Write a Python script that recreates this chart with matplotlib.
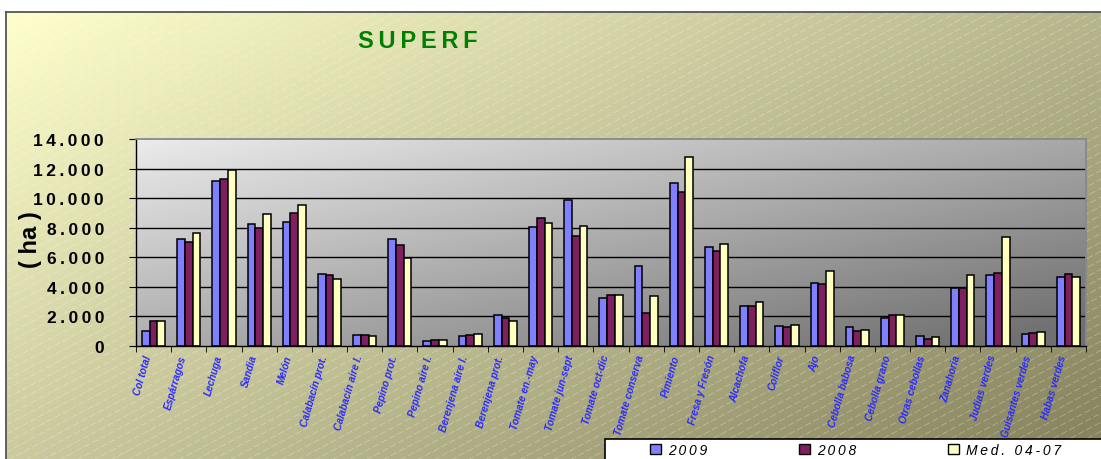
import numpy as np
import matplotlib
matplotlib.use('Agg')
import matplotlib.pyplot as plt
import matplotlib.transforms as mtransforms
from matplotlib.patches import Rectangle, Patch
from matplotlib.ticker import FuncFormatter, MultipleLocator

plt.rcParams['font.family'] = ['Liberation Sans', 'DejaVu Sans']

categories = ['Col total', 'Espárragos', 'Lechuga', 'Sandia', 'Melón',
              'Calabacín prot.', 'Calabacín aire l.', 'Pepino prot.',
              'Pepino aire l.', 'Berenjena aire l.', 'Berenjena prot.',
              'Tomate en.-may', 'Tomate jun-sept', 'Tomate oct-dic',
              'Tomate conserva', 'Pimiento', 'Fresa y Fresón', 'Alcachofa',
              'Coliflor', 'Ajo', 'Cebolla babosa', 'Cebolla grano',
              'Otras cebollas', 'Zanahoria', 'Judías verdes',
              'Guisantes verdes', 'Habas verdes']

ha_2009 = [970, 7250, 11130, 8260, 8370, 4880, 700, 7250, 290, 650, 2080,
           8010, 9840, 3200, 5370, 10990, 6660, 2690, 1350, 4270, 1290,
           1850, 680, 3880, 4790, 770, 4650]
ha_2008 = [1650, 7000, 11260, 7970, 8960, 4790, 700, 6840, 400, 745, 1850,
           8620, 7450, 3410, 2190, 10430, 6410, 2660, 1240, 4180, 990,
           2050, 430, 3880, 4940, 860, 4850]
ha_med = [1650, 7600, 11920, 8920, 9550, 4490, 630, 5960, 360, 790, 1670,
          8340, 8130, 3450, 3360, 12800, 6910, 2930, 1420, 5080, 1040,
          2050, 610, 4810, 7340, 900, 4630]

series_names = ['2009', '2008', 'Med. 04-07']
series_colors = ['#8080ff', '#7f1f5f', '#ffffc0']

W, H = 1101, 460
fig = plt.figure(figsize=(W / 100, H / 100), dpi=100)

# background panel with olive gradient and faint diagonal lines
bg = fig.add_axes([6 / W, -0.05, 1.0, (H - 13) / H + 0.05])
bw, bh = W - 6, H - 13 + 23
xx, yy = np.meshgrid(np.linspace(0, 1, 200), np.linspace(0, 1, 100))
t = np.clip(0.6 * xx + 0.45 * yy, 0, 1)
c0 = np.array([255, 255, 205]) / 255
c1 = np.array([135, 132, 95]) / 255
grad = c0[None, None, :] * (1 - t[..., None]) + c1[None, None, :] * t[..., None]
bg.imshow(grad, extent=[0, bw, 0, bh], origin='upper', aspect='auto', zorder=0)
slope = np.tan(np.radians(28))
for c in np.arange(-bw * slope, bh, 9):
    bg.plot([0, bw], [c, c + bw * slope], color='white', alpha=0.3, lw=0.6,
            dashes=(8, 3), zorder=1)
bg.set_xlim(0, bw)
bg.set_ylim(0, bh)
bg.set_xticks([])
bg.set_yticks([])
for s in bg.spines.values():
    s.set_color('#555555')
    s.set_linewidth(1.3)

# chart area
ax = fig.add_axes([136 / W, 1 - 346.7 / H, (1086 - 136) / W, (346.7 - 140) / H])
n = len(categories)
x = np.arange(n)
ax.set_xlim(-0.5, n - 0.5)
ax.set_ylim(0, 14000)

xg, yg = np.meshgrid(np.linspace(0, 1, 200), np.linspace(0, 1, 100))
tg = np.clip(0.55 * xg + 0.5 * yg, 0, 1)
g0 = np.array([235, 235, 235]) / 255
g1 = np.array([112, 112, 112]) / 255
ggrad = g0[None, None, :] * (1 - tg[..., None]) + g1[None, None, :] * tg[..., None]
ax.imshow(ggrad, extent=[-0.5, n - 0.5, 0, 14000], origin='upper',
          aspect='auto', zorder=0)

for v in range(2000, 14000, 2000):
    ax.axhline(v, color='black', lw=1.0, zorder=1)

bw_ = 0.22
for i, (vals, col, name) in enumerate(zip([ha_2009, ha_2008, ha_med],
                                          series_colors, series_names)):
    ax.bar(x + (i - 1) * bw_, vals, width=bw_, color=col, edgecolor='black',
           linewidth=1.1, zorder=2, label=name)

ax.spines['top'].set_color('#888888')
ax.spines['right'].set_color('#888888')
ax.spines['top'].set_linewidth(1.3)
ax.spines['right'].set_linewidth(1.3)
ax.spines['left'].set_linewidth(1.0)
ax.spines['bottom'].set_linewidth(1.0)

ax.yaxis.set_major_locator(MultipleLocator(2000))
ax.yaxis.set_major_formatter(FuncFormatter(
    lambda v, p: '\u2009'.join(f"{int(v):,}".replace(',', '.'))))
ax.tick_params(axis='y', length=5, pad=18, labelsize=12.5)
for lab in ax.get_yticklabels():
    lab.set_fontweight('bold')

ax.set_xticks(x)
ax.set_xticklabels(categories, rotation=74, ha='right', va='center',
                   rotation_mode='anchor', fontsize=7.3, fontstyle='italic',
                   fontweight='bold', color='#2a2aff')
ax.tick_params(axis='x', length=0, pad=6.5)
shift = mtransforms.ScaledTranslation(-5 / 100, 0, fig.dpi_scale_trans)
for lab in ax.get_xticklabels():
    lab.set_transform(lab.get_transform() + shift)
ax.set_xticks(np.arange(-0.5, n, 1), minor=True)
ax.tick_params(axis='x', which='minor', length=4, direction='out')

fig.text(31 / W, 1 - 240 / H, '( ha )', rotation=90, ha='center', va='center',
         fontsize=17, fontweight='bold')

fig.text(358 / W, 1 - 42 / H, '\u2009'.join('SUPERF'), ha='left', va='center',
         fontsize=17, fontweight='bold', color='#008000')

# legend box
fig.patches.append(Rectangle((605 / W, -0.1), 1.0, 0.1 + 20 / H,
                             transform=fig.transFigure, facecolor='white',
                             edgecolor='black', lw=1.2, zorder=3))
handles = [Patch(facecolor=c, edgecolor='black', lw=1.0) for c in series_colors]
labels = ['\u2009'.join(s) for s in series_names]
leg = fig.legend(handles, labels, loc='center left',
                 bbox_to_anchor=(640 / W, 1 - 451 / H), ncol=3, frameon=False,
                 prop={'style': 'italic', 'size': 10}, handlelength=0.8,
                 handleheight=0.65, handletextpad=0.5, columnspacing=6.6,
                 borderpad=0.2)
leg.set_zorder(4)

fig.savefig('out.png', dpi=100)
